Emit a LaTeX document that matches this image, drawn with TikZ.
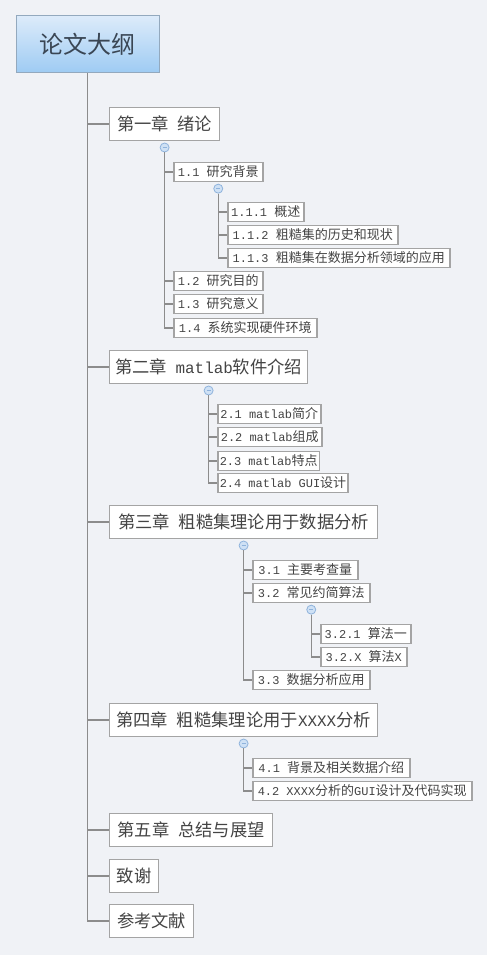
\documentclass[tikz,border=0pt]{standalone}
\usepackage{fontspec}
\newfontfamily\cjk{Noto Sans CJK SC}
\newfontfamily\hw[Scale=0.92]{Liberation Mono}
\usetikzlibrary{positioning}
\definecolor{bgcol}{HTML}{F0F2F6}
\definecolor{linecol}{HTML}{8C8C8C}
\definecolor{boxcol}{HTML}{A4A4A4}
\definecolor{txtcol}{HTML}{444444}
\definecolor{roottop}{HTML}{DCEBFA}
\definecolor{rootbot}{HTML}{9ECBF3}
\definecolor{rootline}{HTML}{93A9BE}
\definecolor{roottxt}{HTML}{3A4654}
\definecolor{knobfill}{HTML}{CFE1F5}
\definecolor{knobdraw}{HTML}{8FB3DC}
\tikzset{
	root/.style={draw=rootline, line width=1pt, top color=roottop, bottom color=rootbot, minimum width=143pt, minimum height=57pt, font=\cjk\fontsize{24}{26}\selectfont, text=roottxt},
	chap/.style={draw=boxcol, line width=1.2pt, fill=white, anchor=west, minimum height=33pt, inner xsep=2pt, font=\cjk\fontsize{17.3}{20}\selectfont, text=txtcol},
	sect/.style={draw=boxcol, line width=1.5pt, fill=white, anchor=west, minimum height=19pt, inner xsep=2pt, inner ysep=0pt, font=\cjk\fontsize{13}{15}\selectfont, text=txtcol},
	knob/.style={circle, draw=knobdraw, fill=knobfill, line width=.8pt, minimum size=9pt, inner sep=0pt, below=1.5pt of #1, path picture={\draw[knobdraw, line width=.9pt] ([xshift=-2pt]path picture bounding box.center) -- ([xshift=2pt]path picture bounding box.center);}},
	trunk/.style={draw=linecol, line width=1.8pt},
	twig/.style={draw=linecol, line width=1.3pt},
}
\begin{document}
\begin{tikzpicture}[x=1pt,y=-1pt]
	\fill[bgcol] (0,0) rectangle (487,955);
	\useasboundingbox (0,0) rectangle (487,955);
	\node[root] (lw) at (87.5,44.5) {论文大纲};
	\node[chap, minimum width=110pt] (c1) at (109,124) {第一章\enskip 绪论};
	\node[chap, minimum width=198pt] (c2) at (109,367) {第二章\enskip{\hw matlab}软件介绍};
	\node[chap, minimum width=268pt] (c3) at (109,522) {第三章\enskip 粗糙集理论用于数据分析};
	\node[chap, minimum width=268pt] (c4) at (109,720) {第四章\enskip 粗糙集理论用于{\hw XXXX}分析};
	\node[chap, minimum width=163pt] (c5) at (109,830) {第五章\enskip 总结与展望};
	\node[chap, minimum width=49pt] (c6) at (109,876) {致谢};
	\node[chap, minimum width=84pt] (c7) at (109,921) {参考文献};
	\foreach \c in {c1,c2,c3,c4,c5,c6,c7}
		\draw[trunk] (lw.south) |- (\c.west);

	\node[sect, minimum width=89pt] (s11) at (173,172) {{\hw 1.1 }研究背景};
	\node[sect, minimum width=76pt] (s111) at (227,212) {{\hw 1.1.1 }概述};
	\node[sect, minimum width=170pt] (s112) at (227,235) {{\hw 1.1.2 }粗糙集的历史和现状};
	\node[sect, minimum width=222pt] (s113) at (227,258) {{\hw 1.1.3 }粗糙集在数据分析领域的应用};
	\node[sect, minimum width=89pt] (s12) at (173,281) {{\hw 1.2 }研究目的};
	\node[sect, minimum width=89pt] (s13) at (173,304) {{\hw 1.3 }研究意义};
	\node[sect, minimum width=143pt] (s14) at (173,328) {{\hw 1.4 }系统实现硬件环境};
	\node[sect, minimum width=103pt] (s21) at (217,414) {{\hw 2.1 matlab}简介};
	\node[sect, minimum width=104pt] (s22) at (217,437) {{\hw 2.2 matlab}组成};
	\node[sect, minimum width=98pt] (s23) at (217,461) {{\hw 2.3 matlab}特点};
	\node[sect, minimum width=130pt] (s24) at (217,483) {{\hw 2.4 matlab GUI}设计};
	\node[sect, minimum width=105pt] (s31) at (252,570) {{\hw 3.1 }主要考查量};
	\node[sect, minimum width=117pt] (s32) at (252,593) {{\hw 3.2 }常见约简算法};
	\node[sect, minimum width=90pt] (s321) at (320,634) {{\hw 3.2.1 }算法一};
	\node[sect, minimum width=86pt] (s32x) at (320,657) {{\hw 3.2.X }算法{\hw X}};
	\node[sect, minimum width=117pt] (s33) at (252,680) {{\hw 3.3 }数据分析应用};
	\node[sect, minimum width=157pt] (s41) at (252,768) {{\hw 4.1 }背景及相关数据介绍};
	\node[sect, minimum width=219pt] (s42) at (252,791) {{\hw 4.2 XXXX}分析的{\hw GUI}设计及代码实现};

	\node[knob=c1] (k1) {};
	\node[knob=s11] (k11) {};
	\node[knob=c2] (k2) {};
	\node[knob=c3] (k3) {};
	\node[knob=s32] (k32) {};
	\node[knob=c4] (k4) {};
	\foreach \k/\s in {k1/s11,k1/s12,k1/s13,k1/s14,k11/s111,k11/s112,k11/s113,k2/s21,k2/s22,k2/s23,k2/s24,k3/s31,k3/s32,k3/s33,k32/s321,k32/s32x,k4/s41,k4/s42}
		\draw[twig] (\k.south) |- (\s.west);
\end{tikzpicture}
\end{document}
